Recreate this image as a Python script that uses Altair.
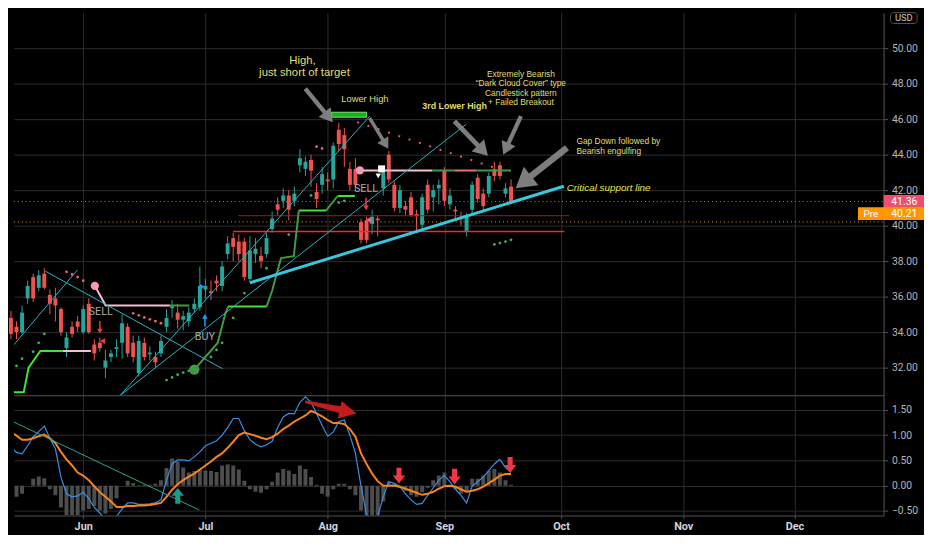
import math
import altair as alt
import numpy as np
import pandas as pd

# ---------------- data (trading-day index, 0 = 1 Jun 2020) ----------------
IDX = list(range(-13, 78))
OPEN = [34.8, 34.3, 34.0, 35.9, 37.1, 36.5, 37.3, 36.1, 35.9, 35.3,
        33.1, 34.3, 34.6, 34.0, 35.6, 33.3, 33.4, 32.0, 32.6, 33.05,
        33.4, 34.3, 33.4, 31.7, 33.4, 32.75, 32.6, 32.8, 34.3, 35.35,
        35.1, 34.7, 34.6, 35.3, 35.4, 36.4, 36.3, 36.9, 36.6, 38.4,
        39.3, 39.1, 39.1, 37.0, 38.4, 38.3, 38.4, 39.8, 41.2, 41.4,
        41.7, 41.4, 43.4, 43.2, 43.7, 41.9, 42.3, 42.6, 42.6, 45.4,
        45.1, 43.2, 43.2, 40.2, 40.3, 40.1, 40.4, 42.1, 44.0, 42.3,
        41.0, 41.1, 41.6, 40.65, 40.05, 42.3, 41.6, 42.1, 43.1, 41.2,
        40.9, 40.5, 39.7, 40.9, 42.7, 41.8, 41.8, 43.2, 43.4, 41.8, 42.2]
HIGH = [35.2, 34.6, 35.5, 36.9, 37.3, 37.5, 37.6, 36.4, 36.5, 35.4,
        34.0, 34.6, 34.9, 35.5, 35.9, 33.6, 33.7, 33.0, 33.0, 33.6,
        35.0, 34.5, 33.8, 33.8, 33.7, 33.2, 32.9, 33.8, 35.3, 35.8,
        35.6, 35.2, 35.4, 35.9, 37.7, 37.0, 36.9, 37.2, 38.0, 39.4,
        39.6, 39.5, 39.3, 39.4, 39.3, 38.8, 39.6, 40.8, 41.6, 42.1,
        42.0, 42.2, 44.3, 43.9, 44.0, 42.4, 43.3, 43.0, 44.7, 45.8,
        45.5, 43.6, 43.8, 40.4, 40.5, 40.9, 40.6, 43.3, 44.2, 42.5,
        42.3, 41.4, 41.9, 40.9, 41.8, 42.6, 42.3, 42.6, 43.3, 42.1,
        41.1, 40.8, 40.7, 42.5, 42.9, 42.1, 43.0, 43.6, 43.6, 42.4, 42.6]
LOW = [33.6, 33.6, 33.9, 35.6, 35.7, 36.3, 36.4, 35.0, 34.6, 33.8,
       32.6, 33.7, 34.0, 33.9, 33.9, 32.4, 32.9, 31.4, 32.3, 32.6,
       32.5, 32.6, 32.3, 31.5, 32.4, 32.4, 32.0, 32.6, 34.0, 34.8,
       34.2, 34.1, 34.3, 35.1, 35.2, 35.9, 35.8, 36.3, 36.3, 38.1,
       38.0, 38.0, 36.9, 36.8, 37.9, 37.6, 38.2, 39.6, 40.6, 41.0,
       40.3, 41.1, 43.0, 42.8, 42.2, 41.0, 41.8, 42.0, 42.1, 44.2,
       43.3, 42.0, 42.0, 39.0, 39.0, 39.5, 39.4, 41.7, 42.4, 40.8,
       40.7, 40.6, 40.5, 39.7, 39.8, 40.7, 40.8, 41.2, 41.1, 40.9,
       40.3, 40.0, 39.4, 40.7, 41.3, 40.8, 41.6, 42.5, 42.6, 41.6, 41.2]
CLOSE = [33.9, 34.0, 35.1, 36.6, 35.9, 37.2, 36.5, 35.6, 35.5, 34.0,
         33.7, 33.9, 34.3, 35.3, 34.0, 32.8, 33.1, 32.4, 32.8, 33.15,
         34.5, 32.8, 32.6, 33.5, 32.6, 32.85, 32.3, 33.5, 34.8, 35.45,
         34.7, 34.9, 35.1, 35.6, 36.6, 36.6, 36.2, 36.75, 37.7, 39.0,
         38.8, 38.4, 37.1, 38.6, 38.7, 38.0, 39.3, 40.4, 40.9, 41.7,
         40.9, 41.8, 43.8, 43.6, 43.1, 41.5, 42.9, 42.5, 44.5, 44.6,
         44.3, 42.3, 42.3, 39.2, 39.2, 40.5, 40.3, 43.0, 42.6, 41.0,
         42.0, 40.9, 40.6, 40.55, 41.6, 40.9, 42.0, 42.3, 41.4, 41.7,
         40.8, 40.4, 40.5, 42.3, 41.5, 41.1, 42.8, 42.8, 42.8, 42.1, 41.36]

MACD = [0.76, 0.66, 0.63, 0.79, 0.97, 1.07, 1.18, 0.94, 0.73, 0.17,
        -0.16, -0.22, -0.20, -0.13, -0.25, -0.43, -0.54, -0.67, -0.70, -0.61,
        -0.46, -0.34, -0.34, -0.37, -0.37, -0.36, -0.34, -0.28, 0.11, 0.43,
        0.51, 0.51, 0.49, 0.57, 0.67, 0.79, 0.84, 0.89, 1.00, 1.15,
        1.33, 1.33, 1.09, 0.91, 0.82, 0.77, 0.81, 0.88, 1.15, 1.36,
        1.43, 1.42, 1.65, 1.76, 1.65, 1.43, 1.19, 0.98, 1.06, 1.27,
        1.30, 1.00, 0.64, -0.01, -0.58, -0.67, -0.61, -0.22, 0.08, 0.05,
        -0.02, -0.16, -0.28, -0.37, -0.35, -0.19, -0.04, 0.11, 0.20, 0.08,
        -0.07, -0.19, -0.34, -0.01, 0.08, 0.17, 0.30, 0.43, 0.52, 0.36, 0.27]
SIGNAL = [1.06, 0.99, 0.91, 0.91, 0.94, 0.98, 1.01, 0.94, 0.84, 0.67,
          0.52, 0.40, 0.26, 0.20, 0.11, -0.01, -0.13, -0.22, -0.31, -0.42,
          -0.42, -0.40, -0.40, -0.39, -0.39, -0.38, -0.36, -0.34, -0.22, -0.08,
          0.03, 0.11, 0.18, 0.24, 0.32, 0.40, 0.48, 0.57, 0.64, 0.75,
          0.87, 1.00, 1.05, 1.02, 0.99, 0.95, 0.92, 0.96, 1.03, 1.12,
          1.19, 1.27, 1.33, 1.39, 1.48, 1.43, 1.37, 1.30, 1.24, 1.24,
          1.22, 1.12, 0.97, 0.64, 0.43, 0.24, 0.09, 0.00, 0.00, 0.00,
          -0.02, -0.06, -0.10, -0.14, -0.18, -0.16, -0.12, -0.06, -0.01, 0.00,
          -0.02, -0.07, -0.12, -0.10, -0.07, -0.02, 0.05, 0.12, 0.20, 0.23, 0.23]
HIST = [-0.19, -0.22, -0.16, 0.00, 0.14, 0.18, 0.15, -0.07, -0.19, -0.43,
        -0.58, -0.58, -0.58, -0.49, -0.46, -0.40, -0.49, -0.55, -0.46, -0.25,
        0.00, 0.10, 0.05, 0.01, 0.02, 0.02, 0.04, 0.11, 0.35, 0.54,
        0.48, 0.36, 0.26, 0.29, 0.32, 0.30, 0.29, 0.27, 0.40, 0.42,
        0.40, 0.32, 0.10, -0.07, -0.12, -0.14, -0.07, 0.08, 0.26, 0.33,
        0.30, 0.23, 0.40, 0.33, 0.17, 0.02, -0.16, -0.22, -0.07, 0.04,
        0.04, -0.07, -0.19, -0.49, -0.58, -0.61, -0.58, -0.31, 0.08, 0.05,
        -0.04, -0.10, -0.19, -0.22, -0.13, -0.04, 0.11, 0.20, 0.26, -0.01,
        -0.07, -0.16, -0.13, 0.14, 0.14, 0.20, 0.29, 0.33, 0.26, 0.11, 0.02]

LAST_PRICE = 41.36
PRE_PRICE = 40.21

MONTH_TICKS = [0, 22, 44, 65, 86, 108, 128]
MONTH_LABELS = ["Jun", "Jul", "Aug", "Sep", "Oct", "Nov", "Dec"]
PRICE_TICKS = [32, 34, 36, 38, 40, 42, 44, 46, 48, 50]
MACD_TICKS = [-0.5, 0.0, 0.5, 1.0, 1.5]

# trailing-stop (supertrend) segments
LIME_SEGS_I = [[-12.98, -10.7, -9.82, -7.72, -3.68], [26.1, 33.0], [38.8, 43.7], [45.8, 48.9]]
LIME_SEGS_P = [[30.61, 30.61, 32.0, 32.94, 32.94], [35.44, 35.44], [40.85, 40.85], [41.67, 41.67]]
DKGREEN_SEGS_I = [[20, 24.2, 25.6, 26.1], [33.0, 34.0, 35.6, 37.9, 38.8], [43.7, 45.8],
                  [15.6, 19.1], [62.8, 66.8], [70.7, 77.0]]
DKGREEN_SEGS_P = [[31.89, 33.39, 35.06, 35.44], [35.44, 36.33, 38.17, 38.28, 40.85], [40.85, 41.67],
                  [35.5, 35.5], [43.11, 43.11], [43.11, 43.11]]
PINK_SEGS_I = [[-3.68, 1.4], [2.1, 4.04, 15.6], [49.8, 62.8]]
PINK_SEGS_P = [[32.94, 32.94], [36.61, 35.5, 35.5], [43.11, 43.11]]
RED_SEGS_I = [[66.8, 70.7]]
RED_SEGS_P = [[43.11, 43.11]]

# parabolic-SAR style dots
GREEN_DOT_I = [-12, -11, -9, -8, -7, 15, 16, 17, 18, 19, 23, 24, 25, 27, 29, 33, 37, 41, 46, 47, 74, 75, 76, 77]
GREEN_DOT_P = [32.1, 32.5, 32.9, 33.4, 33.9, 31.3, 31.45, 31.6, 31.72, 31.82, 32.6, 33.0, 33.4, 34.8,
               36.2, 37.6, 39.5, 41.7, 41.3, 41.4, 38.94, 39.02, 39.1, 39.2]
RED_DOT_I = [-3, -2, -1, 0, 9, 10, 11, 12, 13, 14, 42, 43]
RED_DOT_P = [37.4, 37.25, 37.1, 36.9, 35.06, 34.95, 34.83, 34.72, 34.62, 34.5, 44.45, 44.35]

# drawn trend lines (start idx, start price, end idx, end price)
THIN_I0 = [6.67, 6.67, -6.84, -12.98]
THIN_P0 = [30.44, 30.44, 37.44, 33.11]
THIN_I1 = [51.58, 68.95, 25.09, -1.05]
THIN_P1 = [46.17, 45.72, 31.94, 37.5]
SUPPORT_I = [30.0, 86.5]
SUPPORT_P = [36.78, 42.22]
LEVEL_I0 = [27.9, 27.0]
LEVEL_I1 = [87.5, 86.6]
LEVEL_P = [40.56, 39.67]
LH_I = [49.3, 73.9]
LH_P = [45.83, 43.28]
TARGET_I = [44.7, 51.0]
TARGET_P = [46.11, 46.39]
MACD_TL_I = [-12.98, 20.88]
MACD_TL_M = [1.286, -0.48]

# gray callout arrows: tail and tip
GA_I0 = [40.0, 51.58, 66.84, 78.77, 87.02]
GA_P0 = [47.72, 46.06, 45.89, 46.17, 44.39]
GA_I1 = [44.91, 54.91, 72.81, 75.61, 77.89]
GA_P1 = [45.83, 44.33, 43.94, 44.0, 42.11]
MACD_ARROW_I = [40.0, 49.12]
MACD_ARROW_M = [1.66, 1.43]
MACD_DOWN_I = [56.84, 66.84, 76.84]
MACD_DOWN_M = [0.20, 0.18, 0.41]
MACD_UP_I = [17.02]
MACD_UP_M = [-0.20]

# signals
SELL_I = [3.16, 50.9]
SELL_P = [35.11, 42.06]
SELL_ARROW_I = [3.0, 50.9]
SELL_ARROW_P = [34.28, 41.22]
BUY_I = [21.9]
BUY_P = [33.72]
BUY_ARROW_I = [21.9]
BUY_ARROW_P = [34.67]
PINK_CIRCLE_I = [2.1, 49.8]
PINK_CIRCLE_P = [36.61, 43.11]
GREEN_CIRCLE_I = [20.0]
GREEN_CIRCLE_P = [31.89]

ANN_TITLE = ["High,", "just short of target"]
ANN_TITLE_I = [39.47, 39.82]
ANN_TITLE_P = [49.28, 48.61]
ANN_DARK = ["Extremely Bearish", "\u201cDark Cloud Cover\u201d type", "Candlestick pattern", "+ Failed Breakout"]
ANN_DARK_I = [78.77, 78.77, 78.77, 78.77]
ANN_DARK_P = [48.55, 48.02, 47.49, 46.96]
ANN_GAP = ["Gap Down followed by", "Bearish engulfing"]
ANN_GAP_I = [88.77, 88.77]
ANN_GAP_P = [44.74, 44.19]

# ---------------- layout / style ----------------
W, PH, MH = 882, 388, 122
X_DOM = [-11.58, 143.16]
P_DOM = [30.444, 52.0]
M_DOM = [-0.59, 1.79]
PX_I = W / (X_DOM[1] - X_DOM[0])
PX_P = PH / (P_DOM[1] - P_DOM[0])
PX_M = MH / (M_DOM[1] - M_DOM[0])

BG = "#000000"
GRID = "#2e2e2e"
DOMAIN = "#555555"
AXTXT = "#b2b5be"
UP, DOWN = "#26a69a", "#ef5350"
ANN = "#e2dd72"
FONT = "Liberation Sans"
LBL = 10.5

xs = alt.Scale(domain=X_DOM, nice=False, zero=False)
ps = alt.Scale(domain=P_DOM, nice=False, zero=False)
ms = alt.Scale(domain=M_DOM, nice=False, zero=False)

label_expr = "".join(f"datum.value == {v} ? '{l}' : " for v, l in zip(MONTH_TICKS, MONTH_LABELS)) + "''"

x_axis_p = alt.Axis(values=MONTH_TICKS, labels=False, ticks=False, domain=True, domainColor=DOMAIN,
                    grid=True, gridColor=GRID, title=None)
y_axis_p = alt.Axis(orient="right", values=PRICE_TICKS, format=".2f", grid=True, gridColor=GRID,
                    domain=True, domainColor=DOMAIN, tickColor=DOMAIN, tickSize=4, labelPadding=4,
                    labelColor=AXTXT, labelFontSize=LBL, labelFont="Roboto", title=None)
x_axis_m = alt.Axis(values=MONTH_TICKS, labelExpr=label_expr, ticks=True, tickSize=3, tickColor=DOMAIN,
                    domain=True, domainColor=DOMAIN, grid=True, gridColor=GRID, labelColor="#d1d4dc",
                    labelFontSize=11, labelFont="Roboto", labelFontWeight="bold", labelPadding=2, title=None)
y_axis_m = alt.Axis(orient="right", values=MACD_TICKS, format=".2f", grid=True, gridColor=GRID,
                    domain=True, domainColor=DOMAIN, tickColor=DOMAIN, tickSize=4, labelPadding=4,
                    labelColor=AXTXT, labelFontSize=LBL, labelFont="Roboto", title=None)


def X(f="i"):
    return alt.X(f"{f}:Q", scale=xs, axis=x_axis_p)


def XM(f="i"):
    return alt.X(f"{f}:Q", scale=xs, axis=x_axis_m)


def YP(f="p"):
    return alt.Y(f"{f}:Q", scale=ps, axis=y_axis_p)


def YM(f="m"):
    return alt.Y(f"{f}:Q", scale=ms, axis=y_axis_m)


def seg_frame(seg_i, seg_p):
    rows = []
    for s, (ii, pp) in enumerate(zip(seg_i, seg_p)):
        for k, (a, b) in enumerate(zip(ii, pp)):
            rows.append({"seg": s, "k": k, "i": a, "p": b})
    return pd.DataFrame(rows)


def arrow_frame(i0, p0, i1, p1, pxv):
    rows = []
    for a0, b0, a1, b1 in zip(i0, p0, i1, p1):
        dx = (a1 - a0) * PX_I
        dy = -(b1 - b0) * pxv
        ln = math.hypot(dx, dy)
        ang = math.degrees(math.atan2(dx, -dy)) % 360
        rows.append({"i": (a0 + a1) / 2, "v": (b0 + b1) / 2, "ang": ang, "sz": ln * ln})
    return pd.DataFrame(rows)


GRAY_ARROW = "M-0.1,1L0.1,1L0.1,-0.4L0.36,-0.4L0,-1L-0.36,-0.4L-0.1,-0.4Z"
RED_ARROW = "M-0.05,1L0.05,1L0.13,-0.35L0.34,-0.35L0,-1L-0.34,-0.35L-0.13,-0.35Z"
FAT_DOWN = "M-0.32,-1L0.32,-1L0.32,0L0.78,0L0,1L-0.78,0L-0.32,0Z"
FAT_UP = "M-0.32,1L0.32,1L0.32,0L0.78,0L0,-1L-0.78,0L-0.32,0Z"
THIN_DOWN = "M-0.12,-1L0.12,-1L0.12,0.25L0.45,0.25L0,1L-0.45,0.25L-0.12,0.25Z"
THIN_UP = "M-0.12,1L0.12,1L0.12,-0.25L0.45,-0.25L0,-1L-0.45,-0.25L-0.12,-0.25Z"

# ---------------- price pane ----------------
cdf = pd.DataFrame({"i": IDX, "o": OPEN, "h": HIGH, "l": LOW, "c": CLOSE})
cdf["col"] = np.where(cdf["c"] >= cdf["o"], UP, DOWN)

lvl = pd.DataFrame({"i0": LEVEL_I0, "i1": LEVEL_I1, "p": LEVEL_P})
lvl_a = alt.Chart(lvl.iloc[[0]]).mark_rule(color="#a31818", strokeWidth=1).encode(
    x=X("i0"), x2="i1:Q", y=YP())
lvl_b = alt.Chart(lvl.iloc[[1]]).mark_rule(color="#ff2424", strokeWidth=1.6).encode(
    x=X("i0"), x2="i1:Q", y=YP())

last_df = pd.DataFrame({"p": [LAST_PRICE], "t": [f"{LAST_PRICE:.2f}"]})
pre_df = pd.DataFrame({"p": [PRE_PRICE], "t": [f"{PRE_PRICE:.2f}"]})
last_line = alt.Chart(last_df).mark_rule(color="#f0506e", strokeDash=[1, 3], strokeWidth=1).encode(
    x=alt.value(0), x2=alt.value(W), y=YP())
pre_line = alt.Chart(pre_df).mark_rule(color="#ff9800", strokeDash=[1, 3], strokeWidth=1).encode(
    x=alt.value(0), x2=alt.value(W), y=YP())

wick = alt.Chart(cdf).mark_rule(strokeWidth=1).encode(
    x=X(), y=YP("l"), y2="h:Q", color=alt.Color("col:N", scale=None))
body = alt.Chart(cdf).mark_bar(size=4).encode(
    x=X(), y=YP("o"), y2="c:Q", color=alt.Color("col:N", scale=None))


def seg_layer(si, sp, color, width=2):
    return alt.Chart(seg_frame(si, sp)).mark_line(color=color, strokeWidth=width, clip=True).encode(
        x=X(), y=YP(), detail="seg:N", order="k:Q")


st_lime = seg_layer(LIME_SEGS_I, LIME_SEGS_P, "#3fe23f")
st_dk = seg_layer(DKGREEN_SEGS_I, DKGREEN_SEGS_P, "#3f9c43")
st_pink = seg_layer(PINK_SEGS_I, PINK_SEGS_P, "#f6c0d2")
st_red = seg_layer(RED_SEGS_I, RED_SEGS_P, "#e57373")

tl = pd.DataFrame({"i0": THIN_I0, "p0": THIN_P0, "i1": THIN_I1, "p1": THIN_P1})
thin_lines = alt.Chart(tl).mark_rule(color="#2bb3c2", strokeWidth=1, clip=True).encode(
    x=X("i0"), y=YP("p0"), x2="i1:Q", y2="p1:Q")
sup = pd.DataFrame({"i0": [SUPPORT_I[0]], "p0": [SUPPORT_P[0]], "i1": [SUPPORT_I[1]], "p1": [SUPPORT_P[1]]})
support = alt.Chart(sup).mark_rule(color="#36c9dd", strokeWidth=3, clip=True).encode(
    x=X("i0"), y=YP("p0"), x2="i1:Q", y2="p1:Q")
lh = pd.DataFrame({"i0": [LH_I[0]], "p0": [LH_P[0]], "i1": [LH_I[1]], "p1": [LH_P[1]]})
lh_line = alt.Chart(lh).mark_rule(color="#e0606a", strokeWidth=2, strokeDash=[2, 9]).encode(
    x=X("i0"), y=YP("p0"), x2="i1:Q", y2="p1:Q")

tgt = pd.DataFrame({"i0": [TARGET_I[0]], "i1": [TARGET_I[1]], "p0": [TARGET_P[0]], "p1": [TARGET_P[1]]})
target = alt.Chart(tgt).mark_rect(color="#14b414", stroke="#7de07d", strokeWidth=1).encode(
    x=X("i0"), x2="i1:Q", y=YP("p0"), y2="p1:Q")

gdots = alt.Chart(pd.DataFrame({"i": GREEN_DOT_I, "p": GREEN_DOT_P})).mark_circle(
    color="#3fae5a", size=8, opacity=1).encode(x=X(), y=YP())
rdots = alt.Chart(pd.DataFrame({"i": RED_DOT_I, "p": RED_DOT_P})).mark_circle(
    color="#e8607a", size=8, opacity=1).encode(x=X(), y=YP())

pink_c = alt.Chart(pd.DataFrame({"i": PINK_CIRCLE_I, "p": PINK_CIRCLE_P})).mark_circle(
    color="#f49ab8", size=70, opacity=1).encode(x=X(), y=YP())
green_c = alt.Chart(pd.DataFrame({"i": GREEN_CIRCLE_I, "p": GREEN_CIRCLE_P})).mark_circle(
    color="#3f9c43", size=110, opacity=1).encode(x=X(), y=YP())

sell_t = alt.Chart(pd.DataFrame({"i": SELL_I, "p": SELL_P, "t": ["SELL", "SELL"]})).mark_text(
    color="#a8a8a8", fontSize=11, font="Roboto", baseline="middle").encode(x=X(), y=YP(), text="t:N")
buy_t = alt.Chart(pd.DataFrame({"i": BUY_I, "p": BUY_P, "t": ["BUY"]})).mark_text(
    color="#a8a8a8", fontSize=11, font="Roboto", baseline="middle").encode(x=X(), y=YP(), text="t:N")
sell_a = alt.Chart(pd.DataFrame({"i": SELL_ARROW_I, "p": SELL_ARROW_P})).mark_point(
    shape=THIN_DOWN, filled=True, color="#f23645", size=160, opacity=1, strokeWidth=0).encode(x=X(), y=YP())
buy_a = alt.Chart(pd.DataFrame({"i": BUY_ARROW_I, "p": BUY_ARROW_P})).mark_point(
    shape=THIN_UP, filled=True, color="#2196f3", size=160, opacity=1, strokeWidth=0).encode(x=X(), y=YP())
tri_r1 = alt.Chart(pd.DataFrame({"i": [3.5], "p": [33.5]})).mark_point(
    shape="triangle-left", filled=True, color="#f23645", size=35, opacity=1).encode(x=X(), y=YP())
tri_r2 = alt.Chart(pd.DataFrame({"i": [51.4], "p": [40.33]})).mark_point(
    shape="triangle-left", filled=True, color="#f06292", size=35, opacity=1).encode(x=X(), y=YP())
tri_b = alt.Chart(pd.DataFrame({"i": [21.4], "p": [36.56]})).mark_point(
    shape="triangle-right", filled=True, color="#2196f3", size=35, opacity=1).encode(x=X(), y=YP())
flag_sq = alt.Chart(pd.DataFrame({"i": [53.7], "p": [43.2]})).mark_point(
    shape="square", filled=True, color="#ffffff", size=50, opacity=1).encode(x=X(), y=YP())
flag_tri = alt.Chart(pd.DataFrame({"i": [53.1], "p": [42.8]})).mark_point(
    shape="triangle-down", filled=True, color="#ffffff", size=30, opacity=1).encode(x=X(), y=YP())

gaf = arrow_frame(GA_I0, GA_P0, GA_I1, GA_P1, PX_P)
gray_arrows = alt.Chart(gaf).mark_point(shape=GRAY_ARROW, filled=True, color="#8e8e8e", opacity=0.88,
                                        strokeWidth=0).encode(
    x=X(), y=YP("v"), angle=alt.Angle("ang:Q", scale=None), size=alt.Size("sz:Q", scale=None))

t_title = alt.Chart(pd.DataFrame({"i": ANN_TITLE_I, "p": ANN_TITLE_P, "t": ANN_TITLE})).mark_text(
    color=ANN, fontSize=11.5, font=FONT, baseline="middle").encode(x=X(), y=YP(), text="t:N")
t_lower = alt.Chart(pd.DataFrame({"i": [50.7], "p": [47.11], "t": ["Lower High"]})).mark_text(
    color=ANN, fontSize=9.5, font=FONT, baseline="middle").encode(x=X(), y=YP(), text="t:N")
t_3rd = alt.Chart(pd.DataFrame({"i": [66.84], "p": [46.72], "t": ["3rd Lower High"]})).mark_text(
    color=ANN, fontSize=9, fontWeight="bold", font=FONT, baseline="middle").encode(x=X(), y=YP(), text="t:N")
t_dark = alt.Chart(pd.DataFrame({"i": ANN_DARK_I, "p": ANN_DARK_P, "t": ANN_DARK})).mark_text(
    color=ANN, fontSize=8.5, font=FONT, baseline="middle").encode(x=X(), y=YP(), text="t:N")
t_gap = alt.Chart(pd.DataFrame({"i": ANN_GAP_I, "p": ANN_GAP_P, "t": ANN_GAP})).mark_text(
    color=ANN, fontSize=8.5, font=FONT, baseline="middle", align="left").encode(x=X(), y=YP(), text="t:N")
t_crit = alt.Chart(pd.DataFrame({"i": [87.02], "p": [42.11], "t": ["Critical support line"]})).mark_text(
    color="#e6e65a", fontSize=10, font=FONT, fontStyle="italic", baseline="middle", align="left").encode(
    x=X(), y=YP(), text="t:N")

last_box = alt.Chart(last_df).mark_rect(color="#ef4f6c", yOffset=-6.5, y2Offset=6.5).encode(
    x=alt.value(W), x2=alt.value(W + 41), y=YP(), y2="p:Q")
last_txt = alt.Chart(last_df).mark_text(color="#ffffff", fontSize=LBL, font="Roboto", baseline="middle",
                                        dy=1).encode(x=alt.value(W + 21), y=YP(), text="t:N")
pre_box = alt.Chart(pre_df).mark_rect(color="#ff9800", yOffset=-15, y2Offset=-2).encode(
    x=alt.value(W - 26), x2=alt.value(W + 41), y=YP(), y2="p:Q")
pre_txt = alt.Chart(pre_df).mark_text(color="#ffffff", fontSize=LBL, font="Roboto", baseline="middle",
                                      dy=-7.5).encode(x=alt.value(W + 21), y=YP(), text="t:N")
pre_lbl = alt.Chart(pre_df).mark_text(color="#ffffff", fontSize=10, font="Roboto", baseline="middle",
                                      dy=-7.5).encode(x=alt.value(W - 13), y=YP(), text=alt.value("Pre"))
usd_box = alt.Chart(last_df).mark_rect(fill="#000000", stroke="#555555", strokeWidth=1, cornerRadius=3).encode(
    x=alt.value(W + 7), x2=alt.value(W + 34), y=alt.value(0), y2=alt.value(11))
usd_txt = alt.Chart(last_df).mark_text(color="#c8c8c8", fontSize=9.5, font="Roboto", baseline="middle").encode(
    x=alt.value(W + 20.5), y=alt.value(5.8), text=alt.value("USD"))

price = alt.layer(
    wick, body, lvl_a, lvl_b, last_line, pre_line,
    st_lime, st_dk, st_pink, st_red, thin_lines, support, lh_line, target,
    gdots, rdots, pink_c, green_c, sell_t, buy_t, sell_a, buy_a, tri_r1, tri_r2, tri_b,
    flag_sq, flag_tri, gray_arrows, t_title, t_lower, t_3rd, t_dark, t_gap, t_crit,
    last_box, last_txt, pre_box, pre_txt, pre_lbl, usd_box, usd_txt,
).properties(width=W, height=PH)

# ---------------- MACD pane ----------------
mdf = pd.DataFrame({"i": IDX, "macd": MACD, "sig": SIGNAL, "hist": HIST})
hist = alt.Chart(mdf).mark_bar(size=4, color="#4d4d4d", clip=True).encode(
    x=XM(), y=YM("hist"), y2=alt.datum(0))
macd_l = alt.Chart(mdf).mark_line(color="#3a8ee6", strokeWidth=1.2, clip=True).encode(x=XM(), y=YM("macd"))
sig_l = alt.Chart(mdf).mark_line(color="#f7821e", strokeWidth=2, clip=True).encode(x=XM(), y=YM("sig"))
mtl = pd.DataFrame({"i0": [MACD_TL_I[0]], "m0": [MACD_TL_M[0]], "i1": [MACD_TL_I[1]], "m1": [MACD_TL_M[1]]})
macd_tl = alt.Chart(mtl).mark_rule(color="#26a69a", strokeWidth=1, clip=True).encode(
    x=XM("i0"), y=YM("m0"), x2="i1:Q", y2="m1:Q")
maf = arrow_frame(MACD_ARROW_I[:1], MACD_ARROW_M[:1], MACD_ARROW_I[1:], MACD_ARROW_M[1:], PX_M)
macd_arrow = alt.Chart(maf).mark_point(shape=RED_ARROW, filled=True, color="#c41c1c", opacity=1,
                                       strokeWidth=0).encode(
    x=XM(), y=YM("v"), angle=alt.Angle("ang:Q", scale=None), size=alt.Size("sz:Q", scale=None))
down_a = alt.Chart(pd.DataFrame({"i": MACD_DOWN_I, "m": MACD_DOWN_M})).mark_point(
    shape=FAT_DOWN, filled=True, color="#f23645", size=256, opacity=1, strokeWidth=0).encode(x=XM(), y=YM())
up_a = alt.Chart(pd.DataFrame({"i": MACD_UP_I, "m": MACD_UP_M})).mark_point(
    shape=FAT_UP, filled=True, color="#1a9c8c", size=256, opacity=1, strokeWidth=0).encode(x=XM(), y=YM())

macd = alt.layer(hist, macd_l, sig_l, macd_tl, macd_arrow, down_a, up_a).properties(width=W, height=MH)

chart = alt.vconcat(price, macd, spacing=0).properties(
    padding={"left": 0, "top": 0, "right": 0, "bottom": 0}, background=BG
).configure_view(strokeWidth=0)

chart.save("out.html", embed_options={"renderer": "svg", "actions": False})
